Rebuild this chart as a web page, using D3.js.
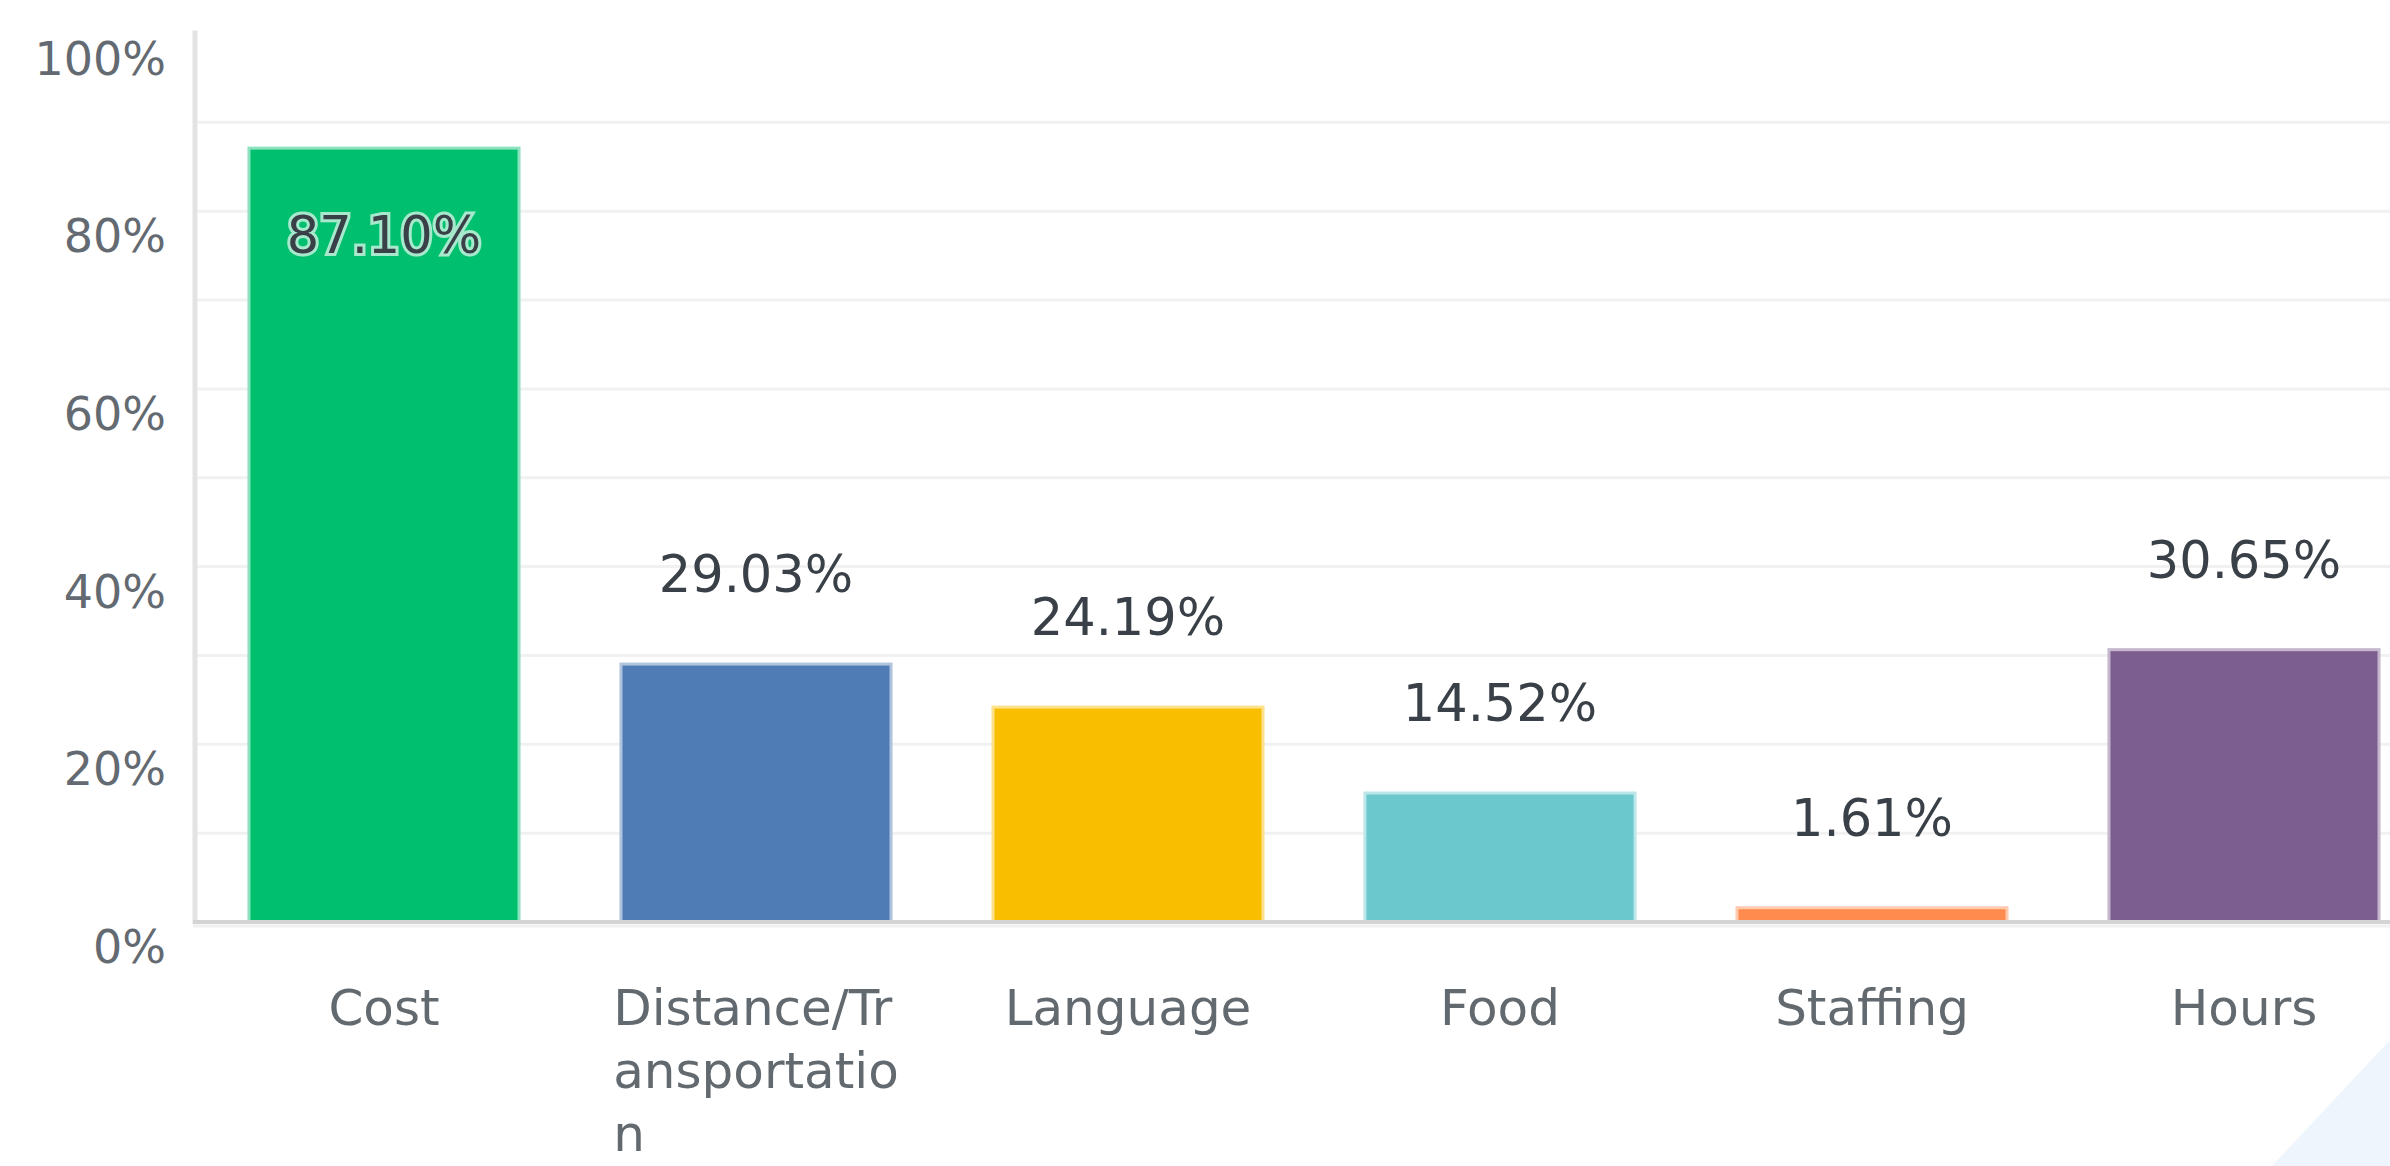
<!DOCTYPE html>
<html>
<head>
<meta charset="utf-8">
<script src="https://cdn.jsdelivr.net/npm/d3@7"></script>
<style>
  html, body { margin: 0; padding: 0; background: #ffffff; }
  svg { display: block; }
</style>
</head>
<body>
<svg id="chart" width="2390" height="1166"></svg>
<script>
const categories = ["Cost", "Distance/Transportation", "Language", "Food", "Staffing", "Hours"];
const values = [87.10, 29.03, 24.19, 14.52, 1.61, 30.65];
const barColors = ["#00BF6F", "#507CB6", "#F9BE00", "#6BC8CD", "#FF8B4F", "#7D5E90"];
const yTickValues = [0, 20, 40, 60, 80, 100];
const gridValues = [10, 20, 30, 40, 50, 60, 70, 80, 90];

const W = 2390, H = 1166;
const svg = d3.select("#chart");
const FONT = "DejaVu Sans, Verdana, sans-serif";

const x = d3.scaleBand().domain(categories).range([198, 2430]).paddingInner(0.274).paddingOuter(0.137);
const y = d3.scaleLinear().domain([0, 100]).range([922, 33.5]);
const color = d3.scaleOrdinal().domain(categories).range(barColors);

// decorative corner wedge
svg.append("path")
  .attr("d", `M2272,${H} L${W},1040 L${W},${H} Z`)
  .attr("fill", "#eef5fc");

// gridlines
svg.append("g").selectAll("line").data(gridValues).join("line")
  .attr("x1", 197).attr("x2", W)
  .attr("y1", d => y(d)).attr("y2", d => y(d))
  .attr("stroke", "#f1f1f1").attr("stroke-width", 3);

// y axis
const yAxis = svg.append("g").attr("transform", "translate(195,0)")
  .call(d3.axisLeft(y).tickValues(yTickValues).tickFormat(d => d + "%").tickSize(0).tickPadding(29));
yAxis.select(".domain").remove();
yAxis.selectAll("text")
  .attr("y", 24).attr("dy", "0.36em")
  .attr("font-family", FONT).attr("font-size", 46).attr("fill", "#636a71");

svg.append("line")
  .attr("x1", 195).attr("x2", 195).attr("y1", y(100) - 3).attr("y2", y(0) + 2)
  .attr("stroke", "#e3e3e3").attr("stroke-width", 5);

// bars
const data = categories.map((c, i) => ({ c, v: values[i] }));
svg.append("g").selectAll("rect").data(data).join("rect")
  .attr("x", d => x(d.c))
  .attr("y", d => y(d.v))
  .attr("width", x.bandwidth())
  .attr("height", d => y(0) - y(d.v))
  .attr("fill", d => color(d.c))
  .attr("stroke", d => d3.interpolateRgb(color(d.c), "#ffffff")(0.55))
  .attr("stroke-width", 3);

// baseline
svg.append("line")
  .attr("x1", 193).attr("x2", W).attr("y1", y(0) + 4).attr("y2", y(0) + 4)
  .attr("stroke", "#f0f0f0").attr("stroke-width", 3);
svg.append("line")
  .attr("x1", 193).attr("x2", W).attr("y1", y(0)).attr("y2", y(0))
  .attr("stroke", "#d4d4d4").attr("stroke-width", 4);

// value labels
svg.append("g").selectAll("text").data(data).join("text")
  .attr("x", d => x(d.c) + x.bandwidth() / 2)
  .attr("y", d => d.v > 80 ? y(d.v) + 87 : y(d.v) - 90)
  .attr("dy", "0.36em")
  .attr("text-anchor", "middle")
  .attr("font-family", FONT).attr("font-size", 51)
  .attr("fill", "#3a4047")
  .attr("stroke", d => d.v > 80 ? "rgba(255,255,255,0.65)" : "none")
  .attr("stroke-width", 6)
  .attr("paint-order", "stroke")
  .text(d => d.v.toFixed(2) + "%");

// x axis with character wrapping
const xAxis = svg.append("g").attr("transform", `translate(0,${y(0)})`)
  .call(d3.axisBottom(x).tickSize(0).tickPadding(0));
xAxis.select(".domain").remove();
const maxW = 295, lineH = 63, firstY = 103;
xAxis.selectAll("text").each(function(label) {
  const t = d3.select(this);
  t.text(null).attr("y", 0).attr("dy", null)
    .attr("font-family", FONT).attr("font-size", 50).attr("fill", "#62696f");
  const lines = [];
  let cur = "";
  const probe = t.append("tspan");
  for (const ch of label) {
    probe.text(cur + ch);
    if (cur && probe.node().getComputedTextLength() > maxW) { lines.push(cur); cur = ch; }
    else cur += ch;
  }
  lines.push(cur);
  probe.remove();
  if (lines.length === 1) {
    t.attr("text-anchor", "middle");
    t.append("tspan").attr("x", 0).attr("y", firstY).text(lines[0]);
  } else {
    let widest = 0;
    lines.forEach(l => {
      const s = t.append("tspan").text(l);
      widest = Math.max(widest, s.node().getComputedTextLength());
      s.remove();
    });
    t.attr("text-anchor", "start");
    lines.forEach((l, i) => {
      t.append("tspan").attr("x", -widest / 2).attr("y", firstY + i * lineH).text(l);
    });
  }
});
</script>
</body>
</html>
